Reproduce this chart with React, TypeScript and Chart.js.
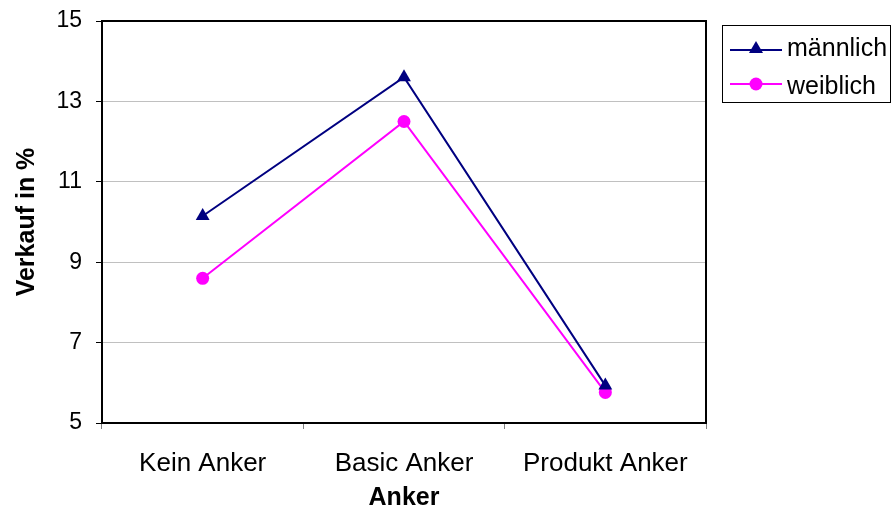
import { useEffect, useRef } from "react";
import { Chart, registerables } from "chart.js";

Chart.register(...registerables);

// Verkaufsanteile je Anker-Variante, getrennt nach Geschlecht
const categories = ["Kein Anker", "Basic Anker", "Produkt Anker"];
const maennlich = [10.15, 13.6, 5.93];
const weiblich = [8.6, 12.5, 5.76];
const yMin = 5;
const yMax = 15;
const yStep = 2;
const seriesNames = ["männlich", "weiblich"];
const seriesColors = ["#000080", "#ff00ff"];

const FONT = "'Liberation Sans', Arial, sans-serif";

// Rahmen um die Zeichenfläche und Legende mit Kasten
const framePlugin = {
  id: "frameAndLegend",
  beforeDatasetsDraw(chart: any) {
    const { ctx, chartArea: a } = chart;
    ctx.save();
    ctx.strokeStyle = "#000";
    ctx.lineWidth = 2;
    ctx.strokeRect(a.left, a.top, a.right - a.left, a.bottom - a.top);
    ctx.restore();
  },
  afterDraw(chart: any) {
    const { ctx } = chart;
    ctx.save();
    ctx.strokeStyle = "#000";
    ctx.lineWidth = 1;
    ctx.strokeRect(722.5, 25.5, 168, 77);

    const rows = [
      { line: 50, text: 56 },
      { line: 84, text: 94 },
    ];
    rows.forEach((r, i) => {
      const color = seriesColors[i];
      ctx.strokeStyle = color;
      ctx.fillStyle = color;
      ctx.lineWidth = 2;
      ctx.beginPath();
      ctx.moveTo(730, r.line);
      ctx.lineTo(782, r.line);
      ctx.stroke();
      ctx.beginPath();
      if (i === 0) {
        ctx.moveTo(756, r.line - 9);
        ctx.lineTo(763, r.line + 3);
        ctx.lineTo(749, r.line + 3);
        ctx.closePath();
      } else {
        ctx.arc(756, r.line, 6.5, 0, Math.PI * 2);
      }
      ctx.fill();
      ctx.fillStyle = "#000";
      ctx.font = `25px ${FONT}`;
      ctx.textAlign = "left";
      ctx.textBaseline = "alphabetic";
      ctx.fillText(seriesNames[i], 787, r.text);
    });
    ctx.restore();
  },
};

export default function App() {
  const canvasRef = useRef<HTMLCanvasElement | null>(null);

  useEffect(() => {
    const canvas = canvasRef.current;
    if (!canvas) return;
    const chart = new Chart(canvas, {
      type: "line",
      data: {
        labels: categories,
        datasets: [
          {
            label: seriesNames[0],
            data: maennlich,
            borderColor: seriesColors[0],
            backgroundColor: seriesColors[0],
            borderWidth: 2,
            pointStyle: "triangle",
            pointRadius: 8,
            pointBorderWidth: 0,
            tension: 0,
          },
          {
            label: seriesNames[1],
            data: weiblich,
            borderColor: seriesColors[1],
            backgroundColor: seriesColors[1],
            borderWidth: 2,
            pointStyle: "circle",
            pointRadius: 6.5,
            pointBorderWidth: 0,
            tension: 0,
          },
        ],
      },
      options: {
        animation: false,
        responsive: false,
        maintainAspectRatio: false,
        layout: { padding: { left: 0, top: 21, right: 187, bottom: 0 } },
        plugins: {
          legend: { display: false },
          tooltip: { enabled: false },
        },
        scales: {
          x: {
            type: "category",
            offset: true,
            grid: {
              offset: true,
              drawOnChartArea: false,
              drawTicks: true,
              tickLength: 6,
              color: "#808080",
              tickColor: "#808080",
            },
            border: { display: false },
            ticks: {
              color: "#000",
              font: { family: FONT, size: 26 },
              padding: 19,
              maxRotation: 0,
            },
            title: {
              display: true,
              text: "Anker",
              color: "#000",
              font: { family: FONT, size: 25, weight: "bold", lineHeight: 0.92 },
              padding: { top: 0, bottom: 0 },
            },
            afterFit(scale: any) {
              scale.height = 87;
            },
          },
          y: {
            min: yMin,
            max: yMax,
            grid: {
              color: "#c0c0c0",
              lineWidth: 1,
              tickColor: "#000",
              tickLength: 6,
            },
            border: { display: false },
            ticks: {
              stepSize: yStep,
              color: "#000",
              font: { family: FONT, size: 23 },
              padding: 14,
            },
            title: {
              display: true,
              text: "Verkauf in %",
              color: "#000",
              font: { family: FONT, size: 25, weight: "bold", lineHeight: 1 },
              padding: { top: 15, bottom: 0 },
            },
            afterFit(scale: any) {
              scale.width = 102;
              scale.paddingTop = 0;
              scale.paddingBottom = 0;
            },
          },
        },
      },
      plugins: [framePlugin],
    });
    return () => chart.destroy();
  }, []);

  return (
    <div style={{ position: "absolute", left: 0, top: 0, width: 893, height: 510, background: "#fff" }}>
      <canvas ref={canvasRef} width={893} height={510} style={{ display: "block" }} />
    </div>
  );
}
